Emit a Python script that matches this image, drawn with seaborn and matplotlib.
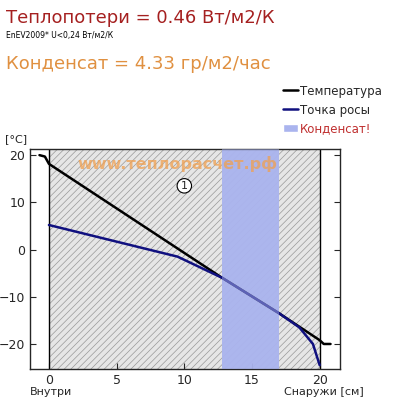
import matplotlib
matplotlib.use("Agg")
import matplotlib.pyplot as plt
import seaborn as sns
from matplotlib.patches import Rectangle
from matplotlib.lines import Line2D
from matplotlib.patches import Patch

sns.set_style("ticks")
plt.rcParams['font.family'] = ['Verdana', 'DejaVu Sans']
plt.rcParams['hatch.color'] = '#999999'
plt.rcParams['hatch.linewidth'] = 0.5

temp_x = [-0.7, -0.3, 0.0, 0.0, 12.8, 17.0, 20.0, 20.3, 20.8]
temp_y = [20.0, 19.7, 18.8, 17.5, -6.0, -13.5, -19.2, -20.0, -20.0]
dew_x = [0.0, 9.5, 12.8, 17.0, 18.5, 19.5, 20.0]
dew_y = [5.2, -1.5, -6.0, -13.5, -16.5, -20.0, -24.5]
layer = (0.0, 20.0)
cond = (12.8, 17.0)

fig = plt.figure(figsize=(4, 4), dpi=100)
ax = fig.add_axes([0.075, 0.0775, 0.775, 0.55])
ax.set_xlim(-1.4, 21.5)
ax.set_ylim(-25.3, 21.3)
ax.add_patch(Rectangle((layer[0], -30), layer[1]-layer[0], 60, facecolor='#e6e6e6',
                       edgecolor='#999999', hatch='/////', lw=0, zorder=0))
ax.axvline(layer[0], color='black', lw=1, zorder=1)
ax.axvline(layer[1], color='black', lw=1, zorder=1)
ax.axvspan(*cond, color='#aab4ee', alpha=0.9, lw=0, zorder=2)
sns.lineplot(x=temp_x, y=temp_y, sort=False, color='black', lw=1.8, ax=ax, zorder=3)
sns.lineplot(x=dew_x, y=dew_y, sort=False, color='#10107f', lw=1.8, ax=ax, zorder=3)
ax.axvspan(*cond, color='#aab4ee', alpha=0.5, lw=0, zorder=4)
ax.text(9.5, 18.2, 'www.теплорасчет.рф', color='#f0a050', alpha=0.75, fontsize=11.5,
        ha='center', va='center', fontweight='bold', zorder=5)
ax.text(10, 13.5, '1', fontsize=8, ha='center', va='center', zorder=5,
        bbox=dict(boxstyle='circle,pad=0.2', fc='white', ec='black', lw=0.8))
ax.set_xticks([0, 5, 10, 15, 20])
ax.set_yticks([-20, -10, 0, 10, 20])
ax.tick_params(direction='in', labelsize=9, right=True, top=False, length=4)
for s in ax.spines.values():
    s.set_linewidth(1)
fig.text(0.075, 0.02, 'Внутри', fontsize=8, va='center')
fig.text(0.81, 0.02, 'Снаружи [см]', fontsize=8, va='center', ha='center')
fig.text(0.012, 0.645, '[°C]', fontsize=8)
fig.text(0.015, 0.955, 'Теплопотери = 0.46 Вт/м2/К', color='#a52020', fontsize=13, va='center')
fig.text(0.015, 0.912, 'EnEV2009* U<0,24 Вт/м2/К', color='black', fontsize=5.5, va='center')
fig.text(0.015, 0.84, 'Конденсат = 4.33 гр/м2/час', color='#e09040', fontsize=13, va='center')
handles = [Line2D([], [], color='black', lw=1.8), Line2D([], [], color='#10107f', lw=1.8),
           Patch(facecolor='#aab4ee')]
leg = fig.legend(handles, ['Температура', 'Точка росы', 'Конденсат!'], loc='upper left',
                 bbox_to_anchor=(0.68, 0.815), frameon=False, fontsize=8.5, handlelength=1.3,
                 handletextpad=0.2, labelspacing=0.5)
leg.get_texts()[2].set_color('#c03030')
fig.savefig('out.png', dpi=100)
